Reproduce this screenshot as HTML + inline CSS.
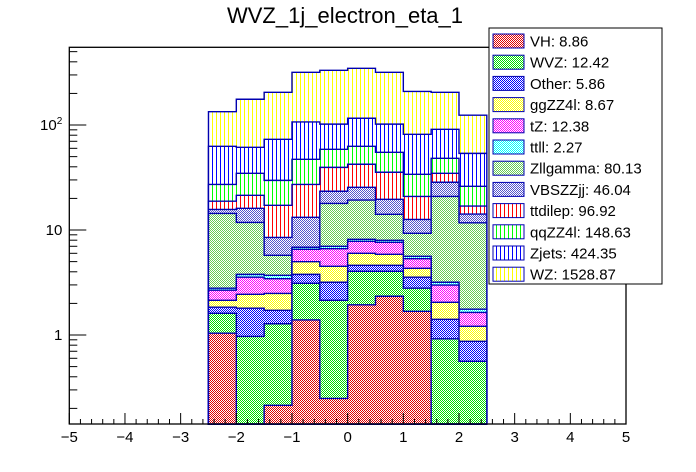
<!DOCTYPE html>
<html><head><meta charset="utf-8"><style>
html,body{margin:0;padding:0;background:#fff;}
svg{display:block;font-family:"Liberation Sans",Arial,sans-serif;}
pattern rect{shape-rendering:crispEdges;}
</style></head><body>
<svg id="c" width="696" height="472" viewBox="0 0 696 472">
<defs>
</defs>
<text x="345" y="23" text-anchor="middle" font-size="22">WVZ_1j_electron_eta_1</text>
<g id="plot"></g>
<g id="axes"></g>
<g id="legend"></g>
</svg>
<script>
// Bin edges and cumulative stack heights (stack totals), bottom-up layer order
const binEdges = [-2.5,-2,-1.5,-1,-0.5,0,0.5,1,1.5,2,2.5];
const layerNames = ["VH","WVZ","Other","ggZZ4l","tZ","ttll","Zllgamma","VBSZZjj","ttdilep","qqZZ4l","Zjets","WZ"];
const legendLabels = ["VH: 8.86","WVZ: 12.42","Other: 5.86","ggZZ4l: 8.67","tZ: 12.38","ttll: 2.27","Zllgamma: 80.13","VBSZZjj: 46.04","ttdilep: 96.92","qqZZ4l: 148.63","Zjets: 424.35","WZ: 1528.87"];
const stackVH       = [1.04, 0, 0.214, 1.39, 0.249, 1.94, 2.34, 1.68, 0, 0];
const stackWVZ      = [1.61, 0.97, 1.28, 3.11, 2.14, 4.04, 4.04, 2.79, 0.92, 0.562];
const stackOther    = [1.84, 1.80, 1.72, 3.78, 3.18, 4.61, 4.61, 3.55, 1.41, 0.871];
const stackggZZ4l   = [2.14, 2.44, 2.49, 4.99, 4.51, 6.0, 5.87, 4.32, 2.05, 1.21];
const stacktZ       = [2.67, 3.55, 3.44, 6.55, 6.64, 7.80, 7.64, 5.33, 2.99, 1.64];
const stackttll     = [2.79, 3.78, 3.70, 6.84, 7.0, 8.15, 7.98, 5.62, 3.18, 1.76];
const stackZllgamma = [14.4, 11.8, 5.74, 6.84, 17.9, 19.3, 14.1, 9.3, 20.9, 11.7];
const stackVBSZZjj  = [15.7, 16.1, 8.5, 13.2, 23.4, 25.5, 19.6, 12.6, 28.5, 14.2];
const stackttdilep  = [18.8, 21.4, 17.2, 27.2, 39.5, 42.3, 35.5, 20.9, 34.7, 16.9];
const stackqqZZ4l   = [27.2, 34.7, 29.7, 47.1, 58.7, 62.7, 55.0, 33.9, 48.2, 26.1];
const stackZjets    = [62.7, 61.4, 73.1, 107, 102, 116, 102, 81.5, 91, 53.7];
const stackWZ       = [134, 176, 205, 318, 332, 347, 318, 209, 205, 124];
const xTicks = [-5,-4,-3,-2,-1,0,1,2,3,4,5];
const xTickLabels = ["\u22125","\u22124","\u22123","\u22122","\u22121","0","1","2","3","4","5"];
const yTicks = [1,10,100];
const yTickLabels = ["1","10","10\u00b2"];

const stacks = [stackVH,stackWVZ,stackOther,stackggZZ4l,stacktZ,stackttll,stackZllgamma,stackVBSZZjj,stackttdilep,stackqqZZ4l,stackZjets,stackWZ];
const styles = [["chk","#e00000"],["chk","#00e000"],["chk","#0000ff"],["chk","#ffff00"],["chk","#ff00ff"],["chk","#00ffff"],["chk","#66cc55"],["chk","#5555cc"],["vl","#ff0000"],["vl","#00ff00"],["vl","#0000ff"],["vl","#ffff00"]];

const L=69.3,R=626,T=47.3,B=424;
const xMin=-5,xMax=5, yLogMin=Math.log10(0.142), yLogMax=Math.log10(550);
const X=v=>L+(v-xMin)/(xMax-xMin)*(R-L);
const Y=v=>{ if(v<=0) return B; let y=B-(Math.log10(v)-yLogMin)/(yLogMax-yLogMin)*(B-T); return Math.max(T,Math.min(B,y)); };
const NS="http://www.w3.org/2000/svg";
const svg=document.getElementById('c');
const defs=svg.querySelector('defs');
function mk(t,a,p){const e=document.createElementNS(NS,t);for(const k in a)e.setAttribute(k,a[k]);if(p)p.appendChild(e);return e;}
styles.forEach((s,i)=>{
  const p=mk('pattern',{id:'p'+i,width:s[0]==='chk'?2:4,height:s[0]==='chk'?2:4,patternUnits:'userSpaceOnUse'},defs);
  mk('rect',{x:0,y:0,width:4,height:4,fill:'#fff','shape-rendering':'crispEdges'},p);
  if(s[0]==='chk'){mk('rect',{x:0,y:0,width:1,height:1,fill:s[1],'shape-rendering':'crispEdges'},p);mk('rect',{x:1,y:1,width:1,height:1,fill:s[1],'shape-rendering':'crispEdges'},p);}
  else mk('rect',{x:0,y:0,width:1,height:4,fill:s[1],'shape-rendering':'crispEdges'},p);
});
const plot=document.getElementById('plot');
for(let i=stacks.length-1;i>=0;i--){
  const vals=stacks[i];
  let d='M'+X(binEdges[0])+','+B;
  for(let b=0;b<vals.length;b++){const y=Y(vals[b]);d+=' L'+X(binEdges[b])+','+y+' L'+X(binEdges[b+1])+','+y;}
  d+=' L'+X(binEdges[binEdges.length-1])+','+B+' Z';
  const el=mk('path',{d:d,fill:'url(#p'+i+')',stroke:'#0000b0','stroke-width':1.4},plot);
  
  
}
const ax=document.getElementById('axes');
const fr=mk('rect',{x:L,y:T,width:R-L,height:B-T,fill:'none',stroke:'#000','stroke-width':1.3},ax);


for(let v=-5;v<=5.001;v+=0.2){
  const major=Math.abs(v-Math.round(v))<1e-6;
  mk('line',{x1:X(v),x2:X(v),y1:B,y2:B-(major?11:5),stroke:'#000','stroke-width':1},ax);
}
xTicks.forEach((v,i)=>{
  const t=mk('text',{x:X(v),y:B+18,'text-anchor':'middle','font-size':15},ax);
  t.textContent=xTickLabels[i];
  
  
});
for(let dec=-1;dec<=2;dec++){
  for(let m=1;m<=9;m++){
    const v=m*Math.pow(10,dec); const lv=Math.log10(v);
    if(lv<yLogMin||lv>yLogMax) continue;
    const y=Y(v);
    mk('line',{x1:L,x2:L+(m===1?17:8),y1:y,y2:y,stroke:'#000','stroke-width':1},ax);
  }
}
yTicks.forEach((v,i)=>{
  const t=mk('text',{x:L-7,y:Y(v)+5,'text-anchor':'end','font-size':15},ax);
  if(v===100){t.textContent='10';const s=mk('tspan',{dy:-6,'font-size':10},t);s.textContent='2';}
  else t.textContent=yTickLabels[i];
  
  
});
const lg=document.getElementById('legend');
const box=mk('rect',{x:489,y:28,width:173,height:256,fill:'#fff',stroke:'#000','stroke-width':1},lg);


legendLabels.forEach((lab,i)=>{
  const y=31+i*21.2;
  const sw=mk('rect',{x:493,y:y+3,width:31,height:14,fill:'url(#p'+i+')',stroke:'#0000b0','stroke-width':1},lg);
  
  
  const t=mk('text',{x:530,y:y+15.5,'font-size':15},lg);
  t.textContent=lab;
  
  
});
</script>
</body></html>
